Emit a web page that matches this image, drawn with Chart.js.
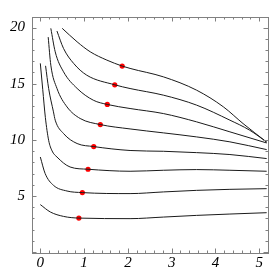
<!DOCTYPE html>
<html>
<head>
<meta charset="utf-8">
<script src="https://cdn.jsdelivr.net/npm/chart.js@4.4.1/dist/chart.umd.min.js"></script>
<style>
  html, body { margin: 0; padding: 0; background: #fff; }
  #wrap { width: 274px; height: 274px; }
</style>
</head>
<body>
<div id="wrap"><canvas id="grafico" width="274" height="274"></canvas></div>
<script>
// tick labels
const xTicks = [0, 1, 2, 3, 4, 5];
const yTicks = [5, 10, 15, 20];

// curves, top to bottom
const c1x = [0.50, 0.84, 1.14, 1.52, 1.87, 2.05, 2.81, 3.57, 4.18, 4.63, 5.17];
const c1y = [19.93, 18.73, 17.84, 17.10, 16.57, 16.36, 15.61, 14.42, 12.94, 11.45, 9.80];
const c2x = [0.38, 0.53, 0.76, 1.06, 1.70, 2.05, 2.81, 3.57, 4.33, 4.78, 5.17];
const c2y = [19.69, 18.14, 16.81, 15.76, 14.90, 14.57, 13.98, 13.09, 11.75, 10.86, 9.80];
const c3x = [0.24, 0.34, 0.53, 0.84, 1.21, 1.53, 2.05, 2.81, 3.57, 4.33, 5.17];
const c3y = [19.93, 17.84, 16.06, 14.58, 13.53, 13.15, 12.79, 12.34, 11.60, 10.71, 9.72];
const c4x = [0.18, 0.24, 0.38, 0.61, 0.91, 1.37, 2.05, 2.81, 3.57, 4.33, 5.17];
const c4y = [19.15, 16.65, 14.58, 12.93, 11.90, 11.36, 10.97, 10.62, 10.26, 9.82, 9.13];
const c5x = [0.12, 0.19, 0.30, 0.34, 0.53, 0.84, 1.22, 2.05, 2.81, 3.57, 4.33, 5.17];
const c5y = [16.59, 14.58, 12.49, 11.75, 10.56, 9.67, 9.40, 9.05, 8.98, 8.86, 8.69, 8.33];
const c6x = [0.00, 0.055, 0.115, 0.19, 0.27, 0.38, 0.68, 1.09, 2.05, 2.81, 3.57, 4.33, 5.17];
const c6y = [16.81, 14.50, 12.00, 9.96, 9.00, 8.47, 7.58, 7.38, 7.20, 7.29, 7.35, 7.29, 7.20];
const c7x = [0.00, 0.11, 0.30, 0.61, 0.96, 2.05, 2.81, 3.57, 4.33, 5.17];
const c7y = [8.47, 7.00, 5.95, 5.44, 5.30, 5.21, 5.36, 5.50, 5.59, 5.65];
const c8x = [0.00, 0.23, 0.53, 0.88, 2.05, 2.81, 3.57, 4.33, 5.17];
const c8y = [4.23, 3.57, 3.18, 3.03, 2.98, 3.12, 3.27, 3.39, 3.51];

// red points
const dotX = [1.87, 1.70, 1.53, 1.37, 1.22, 1.09, 0.96, 0.88];
const dotY = [16.57, 14.90, 13.15, 11.36, 9.40, 7.38, 5.30, 3.03];

const curvas = [[c1x, c1y], [c2x, c2y], [c3x, c3y], [c4x, c4y],
                [c5x, c5y], [c6x, c6y], [c7x, c7y], [c8x, c8y]];

function pares(xs, ys) {
  return xs.map((x, i) => ({ x: x, y: ys[i] }));
}

const datasets = curvas.map(([xs, ys]) => ({
  data: pares(xs, ys),
  borderColor: "#1a1a1a",
  borderWidth: 1,
  pointRadius: 0,
  fill: false,
  cubicInterpolationMode: "monotone",
}));

datasets.push({
  type: "scatter",
  data: pares(dotX, dotY),
  pointRadius: 2.6,
  pointBackgroundColor: "#ff0000",
  pointBorderWidth: 0,
  showLine: false,
});

// frame with ticks pointing inward, on all four sides
const moldura = {
  id: "moldura",
  afterDraw(chart) {
    const { ctx, chartArea: a, scales } = chart;
    const sx = scales.x, sy = scales.y;
    ctx.save();
    ctx.strokeStyle = "#808080";
    ctx.lineWidth = 1;
    ctx.strokeRect(Math.round(a.left) + 0.5, Math.round(a.top) + 0.5,
      Math.round(a.right - a.left), Math.round(a.bottom - a.top));
    ctx.beginPath();
    for (let i = 0; i <= 26; i++) {
      const v = i * 0.2;
      const px = Math.round(sx.getPixelForValue(v)) + 0.5;
      if (px < a.left || px > a.right) continue;
      const len = i % 5 === 0 ? 4.5 : 2.5;
      ctx.moveTo(px, a.bottom); ctx.lineTo(px, a.bottom - len);
      ctx.moveTo(px, a.top); ctx.lineTo(px, a.top + len);
    }
    for (let v = 0; v <= 20; v++) {
      const py = Math.round(sy.getPixelForValue(v)) + 0.5;
      if (py < a.top || py > a.bottom) continue;
      const len = v % 5 === 0 ? 4.5 : 2.5;
      ctx.moveTo(a.left, py); ctx.lineTo(a.left + len, py);
      ctx.moveTo(a.right, py); ctx.lineTo(a.right - len, py);
    }
    ctx.stroke();
    ctx.restore();
  },
};

const fonte = { family: "'Liberation Serif', 'DejaVu Serif', serif", size: 15, style: "italic" };

new Chart(document.getElementById("grafico").getContext("2d"), {
  type: "line",
  data: { datasets: datasets },
  options: {
    responsive: false,
    animation: false,
    layout: { padding: { top: 17, right: 6, left: 0, bottom: 0 } },
    plugins: { legend: { display: false }, tooltip: { enabled: false } },
    scales: {
      x: {
        type: "linear",
        min: -0.19,
        max: 5.2,
        grid: { display: false, drawTicks: false },
        border: { display: false },
        ticks: { font: fonte, color: "#000", padding: 1, maxRotation: 0 },
        afterBuildTicks: (s) => { s.ticks = xTicks.map((v) => ({ value: v })); },
        afterFit: (s) => { s.height = 21; },
      },
      y: {
        type: "linear",
        min: -0.08,
        max: 20.94,
        grid: { display: false, drawTicks: false },
        border: { display: false },
        ticks: { font: fonte, color: "#000", padding: 7 },
        afterBuildTicks: (s) => { s.ticks = yTicks.map((v) => ({ value: v })); },
        afterFit: (s) => { s.width = 32; },
      },
    },
  },
  plugins: [moldura],
});
</script>
</body>
</html>
